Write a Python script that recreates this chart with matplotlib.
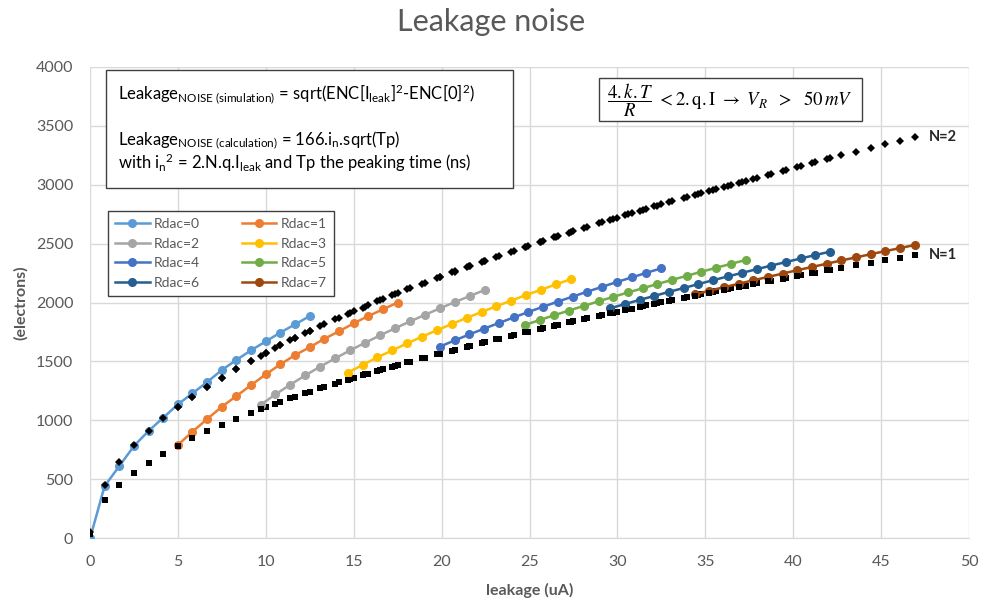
import matplotlib
matplotlib.use("Agg")
import matplotlib.pyplot as plt
from matplotlib.patches import Rectangle

plt.rcParams['font.family'] = ['Lato', 'DejaVu Sans']
plt.rcParams['mathtext.fontset'] = 'custom'
plt.rcParams['mathtext.rm'] = 'Lato'
plt.rcParams['mathtext.it'] = 'Lato:italic'
plt.rcParams['mathtext.bf'] = 'Lato:bold'

# ---- data: leakage current (uA) and noise (electrons) per Rdac setting ----
rdac_labels = ["Rdac=0", "Rdac=1", "Rdac=2", "Rdac=3",
               "Rdac=4", "Rdac=5", "Rdac=6", "Rdac=7"]
rdac_colors = ["#5B9BD5", "#ED7D31", "#A5A5A5", "#FFC000",
               "#4472C4", "#70AD47", "#255E91", "#9E480E"]

leak_r0 = [0.01, 0.83, 1.67, 2.5, 3.33, 4.17, 5.0, 5.83, 6.67, 7.5, 8.33, 9.17, 10.0, 10.83, 11.67, 12.5]
leak_r1 = [5.0, 5.83, 6.67, 7.5, 8.33, 9.17, 10.0, 10.83, 11.67, 12.5, 13.33, 14.17, 15.0, 15.83, 16.67, 17.5]
leak_r2 = [9.70, 10.55, 11.40, 12.25, 13.10, 13.95, 14.80, 15.65, 16.50, 17.35, 18.20, 19.05, 19.90, 20.75, 21.60, 22.45]
leak_r3 = [14.66, 15.51, 16.35, 17.20, 18.04, 18.89, 19.73, 20.58, 21.42, 22.27, 23.11, 23.96, 24.80, 25.65, 26.49, 27.34]
leak_r4 = [19.90, 20.74, 21.58, 22.42, 23.26, 24.10, 24.93, 25.77, 26.61, 27.45, 28.29, 29.13, 29.97, 30.81, 31.65, 32.49]
leak_r5 = [24.74, 25.58, 26.41, 27.25, 28.09, 28.93, 29.76, 30.60, 31.44, 32.27, 33.11, 33.95, 34.78, 35.62, 36.46, 37.30]
leak_r6 = [29.60, 30.43, 31.27, 32.10, 32.93, 33.77, 34.60, 35.43, 36.27, 37.10, 37.93, 38.76, 39.60, 40.43, 41.26, 42.10]
leak_r7 = [34.40, 35.23, 36.07, 36.90, 37.73, 38.57, 39.40, 40.23, 41.07, 41.90, 42.73, 43.57, 44.40, 45.23, 46.07, 46.90]

# simulated leakage noise
sim_r0 = [0, 441, 611, 781, 909, 1022, 1135, 1229, 1325, 1427, 1512, 1595, 1670, 1745, 1815, 1885]
sim_r1 = [790, 903, 1011, 1115, 1206, 1299, 1390, 1475, 1554, 1620, 1692, 1756, 1823, 1885, 1942, 2000]
sim_r2 = [1130, 1220, 1303, 1381, 1456, 1526, 1594, 1658, 1721, 1781, 1839, 1895, 1950, 2003, 2055, 2106]
sim_r3 = [1404, 1470, 1534, 1594, 1653, 1710, 1764, 1817, 1869, 1919, 1968, 2016, 2063, 2108, 2153, 2197]
sim_r4 = [1625, 1678, 1729, 1778, 1826, 1873, 1919, 1964, 2007, 2050, 2092, 2133, 2174, 2213, 2252, 2290]
sim_r5 = [1809, 1851, 1892, 1932, 1971, 2010, 2048, 2085, 2121, 2157, 2192, 2227, 2261, 2295, 2328, 2361]
sim_r6 = [1951, 1987, 2022, 2056, 2090, 2123, 2156, 2189, 2221, 2252, 2283, 2314, 2344, 2374, 2403, 2432]
sim_r7 = [2069, 2100, 2130, 2159, 2189, 2217, 2246, 2274, 2302, 2329, 2357, 2383, 2410, 2436, 2462, 2488]

# calculated leakage noise, N=1
n1_r0 = [35, 320, 453, 555, 641, 717, 785, 848, 907, 961, 1013, 1063, 1110, 1155, 1199, 1241]
n1_r1 = [785, 848, 907, 961, 1013, 1063, 1110, 1155, 1199, 1241, 1282, 1321, 1359, 1397, 1433, 1468]
n1_r2 = [1093, 1140, 1185, 1229, 1270, 1311, 1350, 1389, 1426, 1462, 1497, 1532, 1566, 1599, 1631, 1663]
n1_r3 = [1344, 1382, 1419, 1456, 1491, 1525, 1559, 1592, 1624, 1656, 1687, 1718, 1748, 1778, 1807, 1835]
n1_r4 = [1566, 1598, 1630, 1662, 1693, 1723, 1753, 1782, 1810, 1839, 1867, 1894, 1922, 1948, 1975, 2001]
n1_r5 = [1746, 1775, 1804, 1832, 1860, 1888, 1915, 1942, 1968, 1994, 2020, 2045, 2070, 2095, 2119, 2144]
n1_r6 = [1910, 1936, 1963, 1989, 2014, 2040, 2065, 2089, 2114, 2138, 2162, 2185, 2209, 2232, 2254, 2277]
n1_r7 = [2059, 2084, 2108, 2132, 2156, 2180, 2203, 2226, 2250, 2272, 2295, 2317, 2339, 2360, 2382, 2404]

# calculated leakage noise, N=2
n2_r0 = [50, 453, 642, 786, 907, 1015, 1111, 1200, 1284, 1361, 1434, 1505, 1572, 1636, 1698, 1757]
n2_r1 = [1111, 1200, 1284, 1361, 1434, 1505, 1572, 1636, 1698, 1757, 1815, 1871, 1925, 1978, 2029, 2079]
n2_r2 = [1548, 1614, 1678, 1740, 1799, 1856, 1912, 1966, 2019, 2070, 2120, 2169, 2217, 2264, 2310, 2355]
n2_r3 = [1903, 1957, 2010, 2061, 2111, 2160, 2208, 2255, 2300, 2345, 2389, 2433, 2475, 2517, 2558, 2599]
n2_r4 = [2217, 2263, 2309, 2353, 2397, 2440, 2482, 2523, 2564, 2604, 2644, 2682, 2721, 2759, 2796, 2833]
n2_r5 = [2472, 2514, 2554, 2594, 2634, 2673, 2711, 2749, 2787, 2823, 2860, 2896, 2931, 2966, 3001, 3035]
n2_r6 = [2704, 2741, 2779, 2816, 2852, 2888, 2923, 2958, 2993, 3027, 3061, 3094, 3128, 3160, 3192, 3225]
n2_r7 = [2915, 2950, 2985, 3019, 3053, 3087, 3120, 3152, 3185, 3217, 3249, 3281, 3312, 3342, 3373, 3403]

x_ticks = [0, 5, 10, 15, 20, 25, 30, 35, 40, 45, 50]
y_ticks = [0, 500, 1000, 1500, 2000, 2500, 3000, 3500, 4000]

leaks = [leak_r0, leak_r1, leak_r2, leak_r3, leak_r4, leak_r5, leak_r6, leak_r7]
sims = [sim_r0, sim_r1, sim_r2, sim_r3, sim_r4, sim_r5, sim_r6, sim_r7]
calc_n1 = [n1_r0, n1_r1, n1_r2, n1_r3, n1_r4, n1_r5, n1_r6, n1_r7]
calc_n2 = [n2_r0, n2_r1, n2_r2, n2_r3, n2_r4, n2_r5, n2_r6, n2_r7]

TXT = "#595959"
GRID = "#D9D9D9"

W, H = 983, 601
fig = plt.figure(figsize=(W / 100, H / 100), dpi=100)
ax = fig.add_axes([90 / W, 1 - 538 / H, (969 - 90) / W, (538 - 67) / H])

handles = []
for k in range(8):
    h, = ax.plot(leaks[k], sims[k], color=rdac_colors[k], lw=1.8, marker='o',
                 ms=5.5, mec=rdac_colors[k], mfc=rdac_colors[k], zorder=3 + k * 0.1)
    handles.append(h)
    ax.plot(leaks[k], calc_n1[k], ls='none', marker='s', ms=3.8, color='black',
            mew=0, zorder=3.03 + k * 0.1)
    ax.plot(leaks[k], calc_n2[k], ls='none', marker='D', ms=3.8, color='black',
            mew=0, zorder=3.06 + k * 0.1)

ax.set_xlim(0, 50)
ax.set_ylim(0, 4000)
ax.set_xticks(x_ticks)
ax.set_yticks(y_ticks)
ax.tick_params(length=0, labelsize=11.5, labelcolor=TXT, pad=12)
ax.grid(True, color=GRID, lw=1)
ax.set_axisbelow(True)
for s in ['top', 'right', 'left']:
    ax.spines[s].set_visible(False)
ax.spines['bottom'].set_color(GRID)

ax.set_xlabel("leakage (uA)", fontsize=11.5, fontweight='bold', color=TXT, labelpad=10)
ax.set_ylabel("(electrons)", fontsize=11.5, fontweight='bold', color=TXT, labelpad=6)
fig.text(0.5, 1 - 22 / H, "Leakage noise", ha='center', va='center',
         fontsize=22, color=TXT)

ax.text(47.7, 3405, "N=2", fontsize=10.5, fontweight='bold', color='#262626',
        va='center', ha='left')
ax.text(47.7, 2403, "N=1", fontsize=10.5, fontweight='bold', color='#262626',
        va='center', ha='left')

# legend, filled row by row
order = [0, 2, 4, 6, 1, 3, 5, 7]
leg = ax.legend([handles[i] for i in order], [rdac_labels[i] for i in order],
                ncol=2, loc='upper left', bbox_to_anchor=((108 - 90) / 879, (538 - 211) / 471),
                borderaxespad=0, fontsize=10, frameon=True, fancybox=False,
                edgecolor='#404040', framealpha=1, handlelength=2.5,
                handletextpad=0.3, columnspacing=3.0, labelspacing=0.55,
                borderpad=0.5)
leg.get_frame().set_linewidth(1.0)
for t in leg.get_texts():
    t.set_color(TXT)
leg.set_zorder(10)

# formula box (simulation vs calculation)
box1 = Rectangle((106 / W, 1 - 188 / H), 407 / W, 118 / H, transform=fig.transFigure,
                 facecolor='white', edgecolor='#404040', lw=1.0, zorder=20)
fig.add_artist(box1)
fs1 = 12
fig.text(118 / W, 1 - 100 / H,
         r"Leakage$_{\mathrm{NOISE\ (simulation)}}$ = sqrt(ENC[I$_{\mathrm{leak}}$]$^{2}$-ENC[0]$^{2}$)",
         fontsize=fs1, color='black', va='baseline', ha='left', zorder=21)
fig.text(118 / W, 1 - 146 / H,
         r"Leakage$_{\mathrm{NOISE\ (calculation)}}$ = 166.i$_{\mathrm{n}}$.sqrt(Tp)",
         fontsize=fs1, color='black', va='baseline', ha='left', zorder=21)
fig.text(118 / W, 1 - 169 / H,
         r"with i$_{\mathrm{n}}$$^{2}$ = 2.N.q.I$_{\mathrm{leak}}$ and Tp the peaking time (ns)",
         fontsize=fs1, color='black', va='baseline', ha='left', zorder=21)

# condition box
box2 = Rectangle((599 / W, 1 - 121 / H), 263 / W, 43 / H, transform=fig.transFigure,
                 facecolor='white', edgecolor='#404040', lw=1.0, zorder=20)
fig.add_artist(box2)
fig.text(730 / W, 1 - 100 / H,
         r"$\dfrac{4.k.T}{R}\ <\mathrm{2.q.I}\ \rightarrow\ V_R\ \ >\ \ 50\,mV$",
         fontsize=13.5, color='black', va='center', ha='center', zorder=21,
         math_fontfamily='stix')

fig.savefig("out.png", dpi=100, facecolor='white')
